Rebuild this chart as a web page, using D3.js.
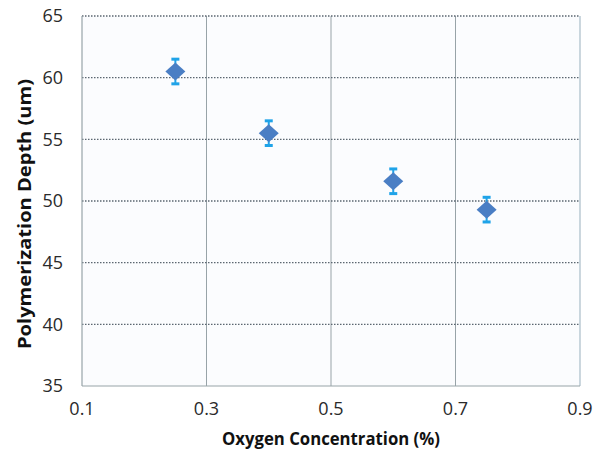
<!DOCTYPE html>
<html><head><meta charset="utf-8">
<script src="https://cdn.jsdelivr.net/npm/d3@7"></script>
<style>body{margin:0;background:#fff}svg{display:block}</style>
</head><body>
<svg id="c" width="602" height="453"></svg>
<script>
const oxygen = [0.25, 0.4, 0.6, 0.75];
const depth = [60.5, 55.5, 51.6, 49.3];
const errors = [1.0, 1.0, 1.0, 1.0];
const xTicks = [0.1, 0.3, 0.5, 0.7, 0.9];
const yTicks = [35, 40, 45, 50, 55, 60, 65];

const svg = d3.select("#c");
const L = 82, R = 580, T = 16, B = 386;
const x = d3.scaleLinear().domain([0.1, 0.9]).range([L, R]);
const y = d3.scaleLinear().domain([35, 65]).range([B, T]);
const font = "'Open Sans', 'Liberation Sans', sans-serif";

svg.append("rect").attr("x", L).attr("y", T).attr("width", R - L).attr("height", B - T).attr("fill", "#fbfcfe");

// vertical grid
svg.append("g").selectAll("line").data(xTicks.slice(1, -1)).join("line")
  .attr("x1", d => x(d)).attr("x2", d => x(d)).attr("y1", T).attr("y2", B)
  .attr("stroke", "#98a3a8").attr("stroke-width", 1);
// right border
svg.append("line").attr("x1", R).attr("x2", R).attr("y1", T).attr("y2", B)
  .attr("stroke", "#a9bcc8").attr("stroke-width", 1.2);
// horizontal dotted grid
svg.append("g").selectAll("line").data(yTicks.slice(1)).join("line")
  .attr("x1", L).attr("x2", R).attr("y1", d => y(d)).attr("y2", d => y(d))
  .attr("stroke", "#5b6670").attr("stroke-width", 1.3).attr("stroke-dasharray", "1.5,1.5");
// left + bottom axis lines
svg.append("line").attr("x1", L).attr("x2", L).attr("y1", T).attr("y2", B).attr("stroke", "#98a3a8").attr("stroke-width", 1.2);
svg.append("line").attr("x1", L).attr("x2", R).attr("y1", B).attr("y2", B).attr("stroke", "#98a3a8").attr("stroke-width", 1.2);

// tick labels
svg.append("g").selectAll("text").data(yTicks).join("text")
  .attr("x", 63).attr("y", d => y(d)).attr("dy", "0.36em").attr("text-anchor", "end")
  .attr("font-family", font).attr("font-size", 18).attr("fill", "#2a2a2a").text(d => d);
svg.append("g").selectAll("text").data(xTicks).join("text")
  .attr("x", d => x(d)).attr("y", 415).attr("text-anchor", "middle")
  .attr("font-family", font).attr("font-size", 18).attr("fill", "#2a2a2a").text(d => d);

svg.append("text").attr("x", 331).attr("y", 445).attr("text-anchor", "middle")
  .attr("font-family", font).attr("font-size", 17).attr("font-weight", "bold").attr("fill", "#111")
  .attr("textLength", 218).attr("lengthAdjust", "spacingAndGlyphs")
  .text("Oxygen Concentration (%)");
svg.append("text").attr("transform", "translate(31,214) rotate(-90)")
  .attr("text-anchor", "middle")
  .attr("font-family", font).attr("font-size", 17).attr("font-weight", "bold").attr("fill", "#111")
  .attr("textLength", 270).attr("lengthAdjust", "spacingAndGlyphs")
  .text("Polymerization Depth (um)");

// error bars
const data = oxygen.map((o, i) => ({o, d: depth[i], e: errors[i]}));
const eb = svg.append("g").attr("stroke", "#1fa3e8");
data.forEach(p => {
  eb.append("line").attr("x1", x(p.o)).attr("x2", x(p.o)).attr("y1", y(p.d + p.e)).attr("y2", y(p.d - p.e)).attr("stroke-width", 2);
  [p.d + p.e, p.d - p.e].forEach(v => eb.append("line").attr("x1", x(p.o) - 4).attr("x2", x(p.o) + 4)
    .attr("y1", y(v)).attr("y2", y(v)).attr("stroke-width", 3));
});
// diamonds
svg.append("g").selectAll("path").data(data).join("path")
  .attr("d", "M0,-9L10,0L0,9L-10,0Z")
  .attr("transform", p => `translate(${x(p.o)},${y(p.d)})`)
  .attr("fill", "#4a7ec4");
</script>
</body></html>
